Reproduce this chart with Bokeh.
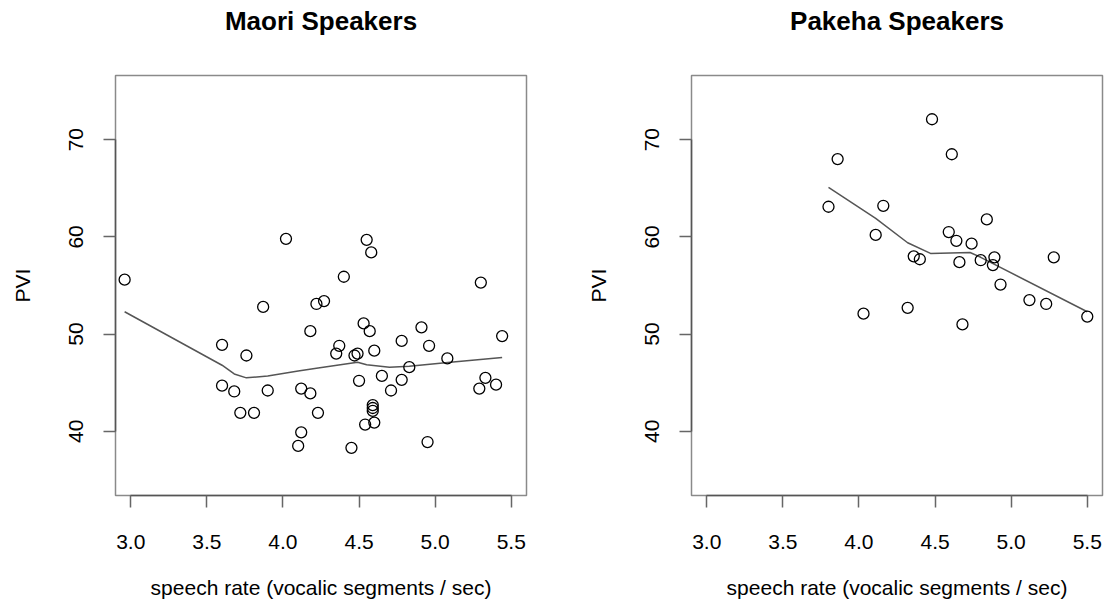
from bokeh.plotting import figure
from bokeh.layouts import row
from bokeh.models import Range1d, FixedTicker, NumeralTickFormatter
from bokeh.embed import file_html
from bokeh.resources import INLINE

# ---- data ----
maori_rate = [2.96, 4.02, 4.55, 4.58, 4.40, 5.30, 3.87, 4.22, 4.27, 4.18,
              4.53, 4.57, 4.91, 5.44, 3.60, 3.76, 4.37, 4.35, 4.47, 4.49,
              4.60, 4.78, 4.96, 5.08, 4.83, 4.65, 4.50, 4.78, 4.71, 5.33,
              5.29, 5.40, 3.60, 3.68, 3.90, 4.12, 4.18, 3.72, 3.81, 4.23,
              4.59, 4.59, 4.59, 4.54, 4.60, 4.12, 4.10, 4.45, 4.95]
maori_pvi = [55.6, 59.8, 59.7, 58.4, 55.9, 55.3, 52.8, 53.1, 53.4, 50.3,
             51.1, 50.3, 50.7, 49.8, 48.9, 47.8, 48.8, 48.0, 47.8, 48.0,
             48.3, 49.3, 48.8, 47.5, 46.6, 45.7, 45.2, 45.3, 44.2, 45.5,
             44.4, 44.8, 44.7, 44.1, 44.2, 44.4, 43.9, 41.9, 41.9, 41.9,
             42.7, 42.4, 42.1, 40.7, 40.9, 39.9, 38.5, 38.3, 38.9]
maori_smooth_x = [2.96, 3.60, 3.68, 3.76, 3.90, 4.10, 4.22, 4.40, 4.49, 4.55, 4.70, 4.83, 5.10, 5.44]
maori_smooth_y = [52.3, 46.8, 45.9, 45.5, 45.7, 46.2, 46.5, 46.9, 47.1, 46.85, 46.6, 46.7, 47.1, 47.6]

pakeha_rate = [4.48, 3.86, 4.61, 3.80, 4.16, 4.84, 4.11, 4.59, 4.64, 4.74,
               4.36, 4.40, 4.66, 4.80, 4.89, 4.88, 5.28, 4.93, 5.12, 5.23,
               5.50, 4.03, 4.32, 4.68]
pakeha_pvi = [72.1, 68.0, 68.5, 63.1, 63.2, 61.8, 60.2, 60.5, 59.6, 59.3,
              58.0, 57.7, 57.4, 57.6, 57.9, 57.1, 57.9, 55.1, 53.5, 53.1,
              51.8, 52.1, 52.7, 51.0]
pakeha_smooth_x = [3.80, 4.11, 4.32, 4.47, 4.73, 4.80, 4.90, 5.50]
pakeha_smooth_y = [65.1, 61.9, 59.4, 58.3, 58.4, 57.9, 57.1, 52.3]

x_ticks = [3.0, 3.5, 4.0, 4.5, 5.0, 5.5]
y_ticks = [40, 50, 60, 70]
x_lim = (2.9, 5.6)
y_lim = (33.4, 76.6)

FONT = "Liberation Sans"


def panel(title, xs, ys, sx, sy, border_left, border_right):
    p = figure(width=552, height=603, output_backend="svg", toolbar_location=None,
               x_range=Range1d(*x_lim), y_range=Range1d(*y_lim),
               min_border_left=border_left, min_border_right=border_right,
               min_border_top=75, min_border_bottom=108,
               title=title + "\n ")
    p.title.align = "center"
    p.title.vertical_align = "bottom"
    p.title.text_font = FONT
    p.title.text_font_size = "26px"
    p.title.text_font_style = "bold"
    p.title.text_color = "black"
    p.title.text_line_height = 1.32
    p.title.standoff = 0
    p.grid.visible = False
    p.outline_line_color = "#8a8a8a"
    p.outline_line_width = 1.5
    p.background_fill_color = "white"
    p.border_fill_color = "white"

    xa = p.xaxis[0]
    xa.ticker = FixedTicker(ticks=x_ticks)
    xa.formatter = NumeralTickFormatter(format="0.0")
    xa.bounds = (x_ticks[0], x_ticks[-1])
    xa.axis_label = "speech rate (vocalic segments / sec)"
    ya = p.yaxis[0]
    ya.ticker = FixedTicker(ticks=y_ticks)
    ya.bounds = (y_ticks[0], y_ticks[-1])
    ya.axis_label = "PVI"
    ya.major_label_orientation = "vertical"
    for ax in (xa, ya):
        ax.axis_line_color = "#555555"
        ax.axis_line_width = 1.5
        ax.major_tick_line_color = "#666666"
        ax.major_tick_line_width = 1.5
        ax.major_tick_in = 0
        ax.major_tick_out = 12
        ax.minor_tick_line_color = None
        ax.major_label_text_font = FONT
        ax.major_label_text_font_size = "21px"
        ax.major_label_text_color = "black"
        ax.axis_label_text_font = FONT
        ax.axis_label_text_font_size = "21px"
        ax.axis_label_text_font_style = "normal"
        ax.axis_label_text_color = "black"
    xa.major_label_standoff = 27
    xa.axis_label_standoff = 24
    ya.major_label_standoff = 20
    ya.axis_label_standoff = 33

    p.line(sx, sy, line_color="#555555", line_width=1.5)
    p.scatter(xs, ys, marker="circle", size=11, fill_color=None,
              line_color="black", line_width=1.3)
    return p


p1 = panel("Maori Speakers", maori_rate, maori_pvi, maori_smooth_x, maori_smooth_y, 115, 26)
p2 = panel("Pakeha Speakers", pakeha_rate, pakeha_pvi, pakeha_smooth_x, pakeha_smooth_y, 139, 2)

p = row(p1, p2)
open("out.html", "w").write(file_html(p, INLINE))
